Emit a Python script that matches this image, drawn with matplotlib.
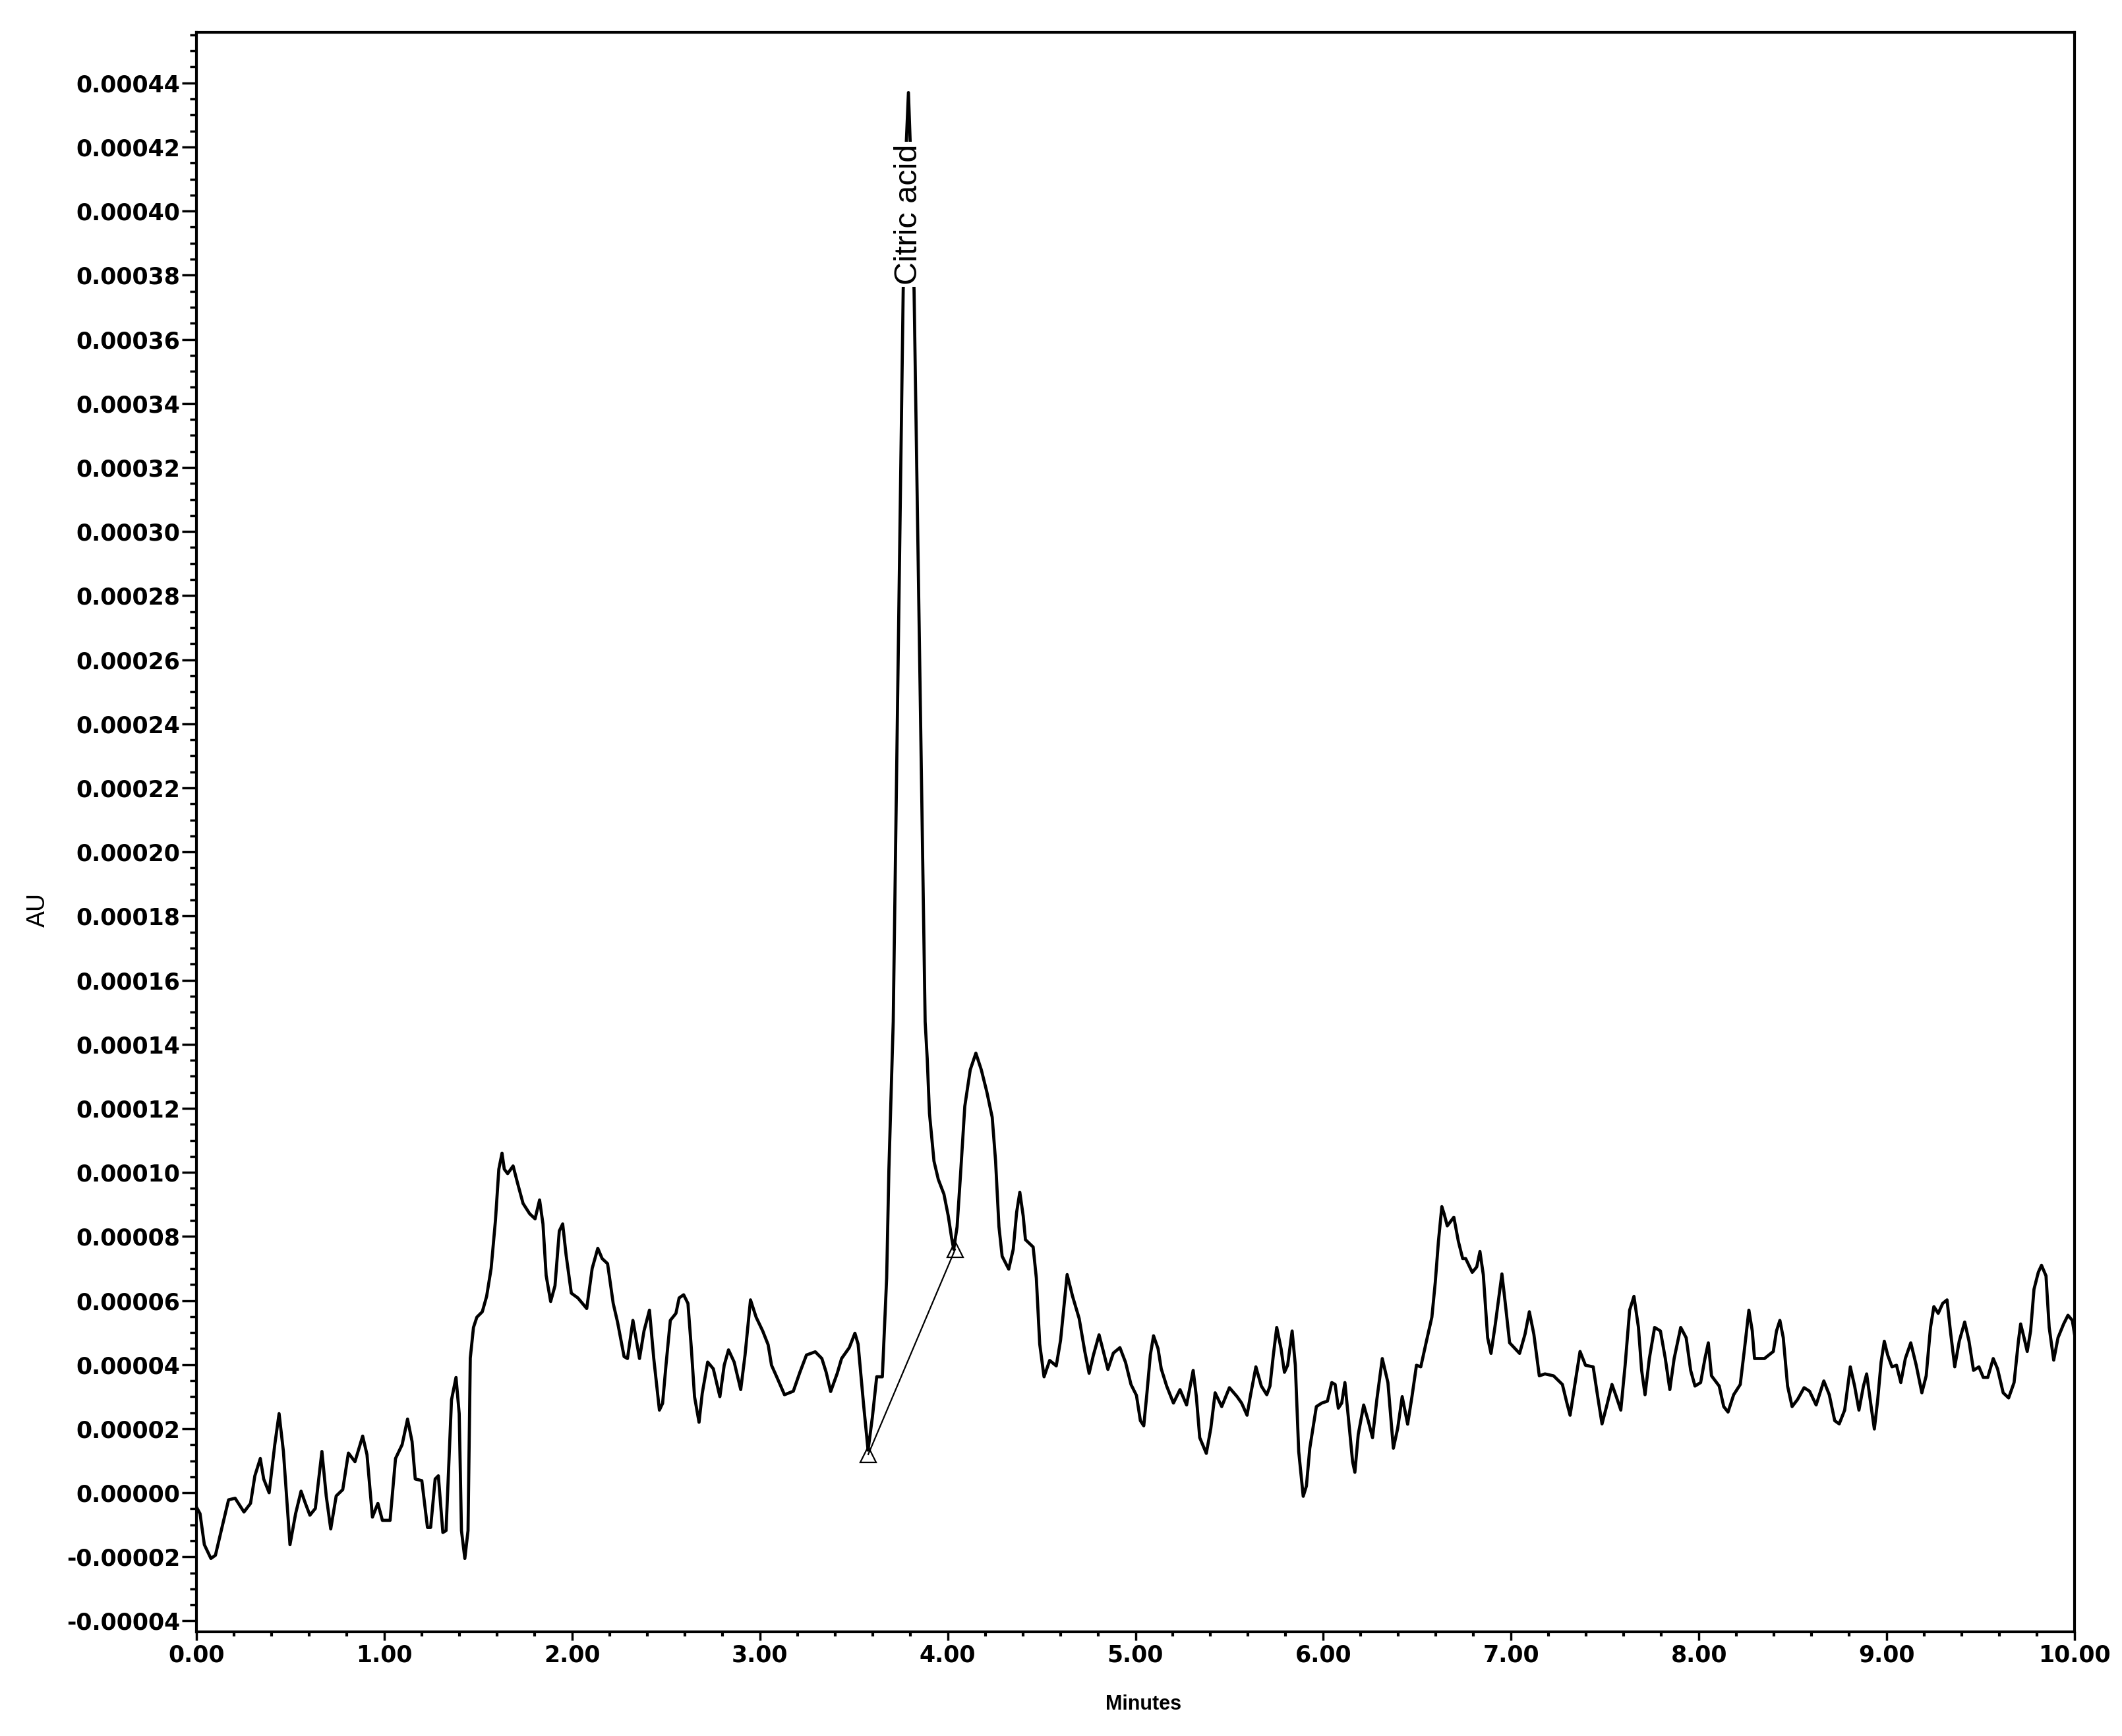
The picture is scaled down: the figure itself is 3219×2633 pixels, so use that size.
import numpy as np
import matplotlib
matplotlib.use("Agg")
import matplotlib.pyplot as plt
from matplotlib.ticker import MultipleLocator, FormatStrFormatter

# Retention time (minutes)
time_min = [
    0.000, 0.019, 0.042, 0.077, 0.101, 0.136, 0.171, 0.206, 0.253, 0.288,
    0.311, 0.340, 0.358, 0.387, 0.417, 0.440, 0.463, 0.498, 0.528, 0.557,
    0.580, 0.604, 0.633, 0.668, 0.691, 0.715, 0.744, 0.779, 0.809, 0.844,
    0.885, 0.908, 0.937, 0.966, 0.990, 1.031, 1.060, 1.095, 1.124, 1.148,
    1.165, 1.200, 1.230, 1.247, 1.271, 1.288, 1.312, 1.329, 1.358, 1.382,
    1.399, 1.411, 1.429, 1.446, 1.458, 1.475, 1.493, 1.522, 1.545, 1.569,
    1.592, 1.610, 1.627, 1.639, 1.657, 1.686, 1.709, 1.739, 1.774, 1.803,
    1.827, 1.845, 1.862, 1.886, 1.909, 1.932, 1.950, 1.968, 1.996, 2.031,
    2.078, 2.107, 2.137, 2.160, 2.189, 2.219, 2.242, 2.277, 2.295, 2.324,
    2.359, 2.383, 2.412, 2.435, 2.465, 2.482, 2.500, 2.523, 2.553, 2.570,
    2.594, 2.617, 2.635, 2.652, 2.676, 2.693, 2.722, 2.752, 2.787, 2.810,
    2.833, 2.863, 2.898, 2.921, 2.950, 2.980, 3.015, 3.044, 3.062, 3.091,
    3.131, 3.178, 3.213, 3.248, 3.295, 3.330, 3.353, 3.377, 3.412, 3.435,
    3.476, 3.506, 3.523, 3.553, 3.576, 3.599, 3.622, 3.652, 3.675, 3.687,
    3.710, 3.763, 3.780, 3.791, 3.800, 3.821, 3.880, 3.891, 3.903, 3.927,
    3.950, 3.980, 4.003, 4.021, 4.032, 4.050, 4.068, 4.091, 4.120, 4.150,
    4.179, 4.208, 4.237, 4.255, 4.273, 4.290, 4.325, 4.349, 4.367, 4.384,
    4.402, 4.414, 4.455, 4.472, 4.490, 4.513, 4.543, 4.578, 4.601, 4.636,
    4.665, 4.700, 4.730, 4.753, 4.776, 4.806, 4.829, 4.853, 4.882, 4.917,
    4.947, 4.976, 5.005, 5.026, 5.044, 5.061, 5.079, 5.096, 5.120, 5.137,
    5.166, 5.202, 5.237, 5.272, 5.307, 5.324, 5.342, 5.377, 5.401, 5.424,
    5.459, 5.500, 5.541, 5.565, 5.594, 5.611, 5.641, 5.670, 5.699, 5.716,
    5.734, 5.752, 5.775, 5.793, 5.810, 5.834, 5.851, 5.869, 5.893, 5.910,
    5.928, 5.963, 5.992, 6.022, 6.045, 6.063, 6.080, 6.098, 6.115, 6.133,
    6.156, 6.168, 6.186, 6.215, 6.239, 6.262, 6.285, 6.314, 6.344, 6.373,
    6.396, 6.420, 6.449, 6.472, 6.496, 6.519, 6.549, 6.578, 6.596, 6.613,
    6.631, 6.643, 6.660, 6.695, 6.719, 6.742, 6.758, 6.793, 6.817, 6.834,
    6.852, 6.875, 6.893, 6.916, 6.951, 6.969, 6.992, 7.045, 7.074, 7.097,
    7.121, 7.150, 7.180, 7.226, 7.273, 7.297, 7.314, 7.338, 7.367, 7.396,
    7.437, 7.461, 7.484, 7.508, 7.537, 7.560, 7.584, 7.607, 7.631, 7.654,
    7.678, 7.695, 7.713, 7.736, 7.764, 7.795, 7.821, 7.845, 7.868, 7.903,
    7.932, 7.956, 7.979, 8.009, 8.032, 8.050, 8.067, 8.108, 8.132, 8.155,
    8.185, 8.220, 8.243, 8.266, 8.284, 8.296, 8.349, 8.396, 8.413, 8.431,
    8.449, 8.472, 8.496, 8.525, 8.560, 8.589, 8.624, 8.665, 8.694, 8.723,
    8.747, 8.776, 8.806, 8.829, 8.852, 8.876, 8.893, 8.917, 8.934, 8.952,
    8.970, 8.987, 9.005, 9.028, 9.052, 9.075, 9.099, 9.128, 9.157, 9.187,
    9.210, 9.233, 9.251, 9.274, 9.298, 9.321, 9.339, 9.362, 9.386, 9.415,
    9.438, 9.462, 9.491, 9.514, 9.538, 9.567, 9.590, 9.620, 9.649, 9.678,
    9.701, 9.713, 9.731, 9.748, 9.766, 9.784, 9.807, 9.824, 9.848, 9.865,
    9.889, 9.912, 9.942, 9.965, 9.988, 10.000,
]

# Absorbance in units of 1e-5 AU
au_e5 = [
    -0.45, -0.65, -1.62, -2.05, -1.95, -1.08, -0.22, -0.17, -0.60, -0.33,
    0.53, 1.07, 0.43, 0.00, 1.50, 2.47, 1.29, -1.62, -0.65, 0.05,
    -0.33, -0.70, -0.49, 1.29, -0.10, -1.13, -0.10, 0.10, 1.24, 0.97,
    1.77, 1.19, -0.76, -0.33, -0.86, -0.86, 1.07, 1.50, 2.30, 1.60,
    0.43, 0.38, -1.08, -1.08, 0.43, 0.53, -1.24, -1.18, 2.90, 3.60,
    2.47, -1.18, -2.05, -1.18, 4.20, 5.16, 5.48, 5.65, 6.13, 7.00,
    8.50, 10.10, 10.60, 10.10, 9.96, 10.20, 9.68, 9.03, 8.71, 8.55,
    9.14, 8.39, 6.78, 5.97, 6.46, 8.17, 8.39, 7.43, 6.23, 6.08,
    5.75, 7.00, 7.63, 7.31, 7.15, 5.91, 5.33, 4.25, 4.19, 5.38,
    4.19, 5.05, 5.70, 4.19, 2.58, 2.79, 3.98, 5.38, 5.60, 6.08,
    6.18, 5.91, 4.51, 3.00, 2.20, 3.10, 4.08, 3.87, 3.00, 3.98,
    4.46, 4.08, 3.22, 4.30, 6.02, 5.48, 5.05, 4.62, 3.98, 3.60,
    3.06, 3.17, 3.76, 4.30, 4.40, 4.19, 3.76, 3.16, 3.73, 4.19,
    4.53, 4.98, 4.64, 2.70, 1.33, 2.36, 3.62, 3.62, 6.70, 10.10,
    14.70, 37.50, 42.20, 43.70, 42.20, 37.50, 14.70, 13.55, 11.84, 10.35,
    9.78, 9.32, 8.64, 7.95, 7.60, 8.30, 9.90, 12.06, 13.20, 13.72,
    13.20, 12.52, 11.72, 10.35, 8.30, 7.38, 6.98, 7.60, 8.75, 9.38,
    8.64, 7.90, 7.67, 6.70, 4.64, 3.62, 4.13, 3.96, 4.76, 6.81,
    6.13, 5.44, 4.41, 3.73, 4.30, 4.93, 4.41, 3.85, 4.36, 4.53,
    4.07, 3.38, 3.04, 2.25, 2.09, 3.12, 4.30, 4.90, 4.50, 3.87,
    3.33, 2.80, 3.22, 2.74, 3.82, 3.00, 1.72, 1.23, 2.01, 3.12,
    2.69, 3.28, 3.00, 2.80, 2.42, 3.00, 3.93, 3.33, 3.06, 3.33,
    4.30, 5.16, 4.50, 3.76, 3.98, 5.05, 3.98, 1.29, -0.11, 0.21,
    1.39, 2.69, 2.80, 2.86, 3.44, 3.38, 2.64, 2.80, 3.44, 2.37,
    0.97, 0.64, 1.82, 2.74, 2.25, 1.72, 2.91, 4.19, 3.44, 1.39,
    2.01, 3.00, 2.14, 3.00, 3.98, 3.93, 4.73, 5.48, 6.56, 7.85,
    8.93, 8.71, 8.33, 8.60, 7.85, 7.31, 7.31, 6.88, 7.05, 7.53,
    6.80, 4.84, 4.35, 5.27, 6.83, 5.91, 4.68, 4.35, 4.95, 5.65,
    4.95, 3.65, 3.71, 3.65, 3.38, 2.80, 2.42, 3.33, 4.41, 3.98,
    3.93, 3.00, 2.15, 2.69, 3.38, 3.00, 2.58, 3.98, 5.70, 6.13,
    5.16, 3.82, 3.06, 4.19, 5.16, 5.05, 4.19, 3.22, 4.19, 5.16,
    4.84, 3.82, 3.33, 3.44, 4.19, 4.68, 3.65, 3.33, 2.69, 2.52,
    3.06, 3.38, 4.51, 5.70, 5.05, 4.19, 4.19, 4.41, 5.05, 5.38,
    4.84, 3.33, 2.69, 2.91, 3.28, 3.17, 2.74, 3.49, 3.06, 2.25,
    2.15, 2.58, 3.93, 3.33, 2.58, 3.33, 3.71, 2.69, 1.99, 2.91,
    4.08, 4.73, 4.30, 3.93, 3.98, 3.44, 4.19, 4.68, 3.98, 3.12,
    3.65, 5.16, 5.81, 5.60, 5.91, 6.02, 5.05, 3.93, 4.73, 5.33,
    4.73, 3.82, 3.93, 3.60, 3.60, 4.19, 3.87, 3.12, 2.96, 3.44,
    4.73, 5.27, 4.84, 4.41, 5.05, 6.35, 6.88, 7.10, 6.77, 5.16,
    4.14, 4.84, 5.27, 5.54, 5.38, 4.95,
]

# Integration baseline of the citric acid peak (start, end)
baseline_time = [3.577, 4.040]
baseline_au_e5 = [1.20, 7.60]

peak_name = "Citric acid"
peak_time = 3.791
label_au_e5 = 39.9

x_ticks = [0, 1, 2, 3, 4, 5, 6, 7, 8, 9, 10]
x_tick_labels = ["0.00", "1.00", "2.00", "3.00", "4.00", "5.00",
                 "6.00", "7.00", "8.00", "9.00", "10.00"]

t = np.array(time_min)
y = np.array(au_e5) * 1e-5

fig = plt.figure(figsize=(32.19, 26.33), dpi=100)
ax = fig.add_axes([0.09258, 0.0600, 0.88506, 0.92139])

ax.plot(t, y, color="black", linewidth=3.4, solid_joinstyle="round")
ax.plot(baseline_time, np.array(baseline_au_e5) * 1e-5, color="black",
        linewidth=1.6, marker="^", markersize=17, markerfacecolor="none",
        markeredgecolor="black", markeredgewidth=1.6)

ax.text(peak_time, label_au_e5 * 1e-5, peak_name, rotation=90,
        ha="center", va="center", fontsize=35, family="Liberation Sans",
        bbox=dict(facecolor="white", edgecolor="none", pad=2))

ax.set_xlim(0, 10)
ax.set_ylim(-0.0000434, 0.0004558)

ax.set_xticks(x_ticks)
ax.set_xticklabels(x_tick_labels)
ax.xaxis.set_minor_locator(MultipleLocator(0.2))
ax.yaxis.set_major_locator(MultipleLocator(0.00002))
ax.yaxis.set_minor_locator(MultipleLocator(0.000005))
ax.yaxis.set_major_formatter(FormatStrFormatter("%.5f"))

for lab in ax.get_xticklabels() + ax.get_yticklabels():
    lab.set_family("DejaVu Sans")
    lab.set_fontweight("bold")
    lab.set_fontsize(25)

ax.tick_params(axis="y", which="major", direction="out", length=16, width=2.5, pad=2)
ax.tick_params(axis="y", which="minor", direction="out", length=7, width=2.5)
ax.tick_params(axis="x", which="major", direction="out", length=9, width=2.5, pad=4)
ax.tick_params(axis="x", which="minor", direction="out", length=5, width=3)

for sp in ax.spines.values():
    sp.set_linewidth(3)
    sp.set_color("black")

fig.text(58 / 3219, 1 - 1380 / 2633, "AU", rotation=90, ha="center", va="center",
         fontsize=27, family="Liberation Sans")
fig.text(1735 / 3219, 1 - 2585 / 2633, "Minutes", ha="center", va="center",
         fontsize=22, family="Liberation Sans", fontweight="bold")

fig.savefig("out.png", dpi=100, facecolor="white")
